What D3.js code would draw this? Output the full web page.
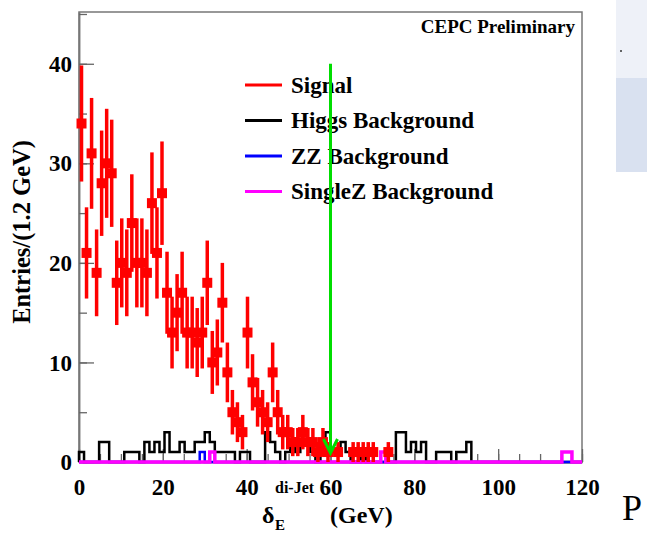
<!DOCTYPE html>
<html>
<head>
<meta charset="utf-8">
<script src="https://cdn.jsdelivr.net/npm/d3@7"></script>
<style>
body { margin: 0; background: #fff; }
text { font-family: "Liberation Serif", "Times New Roman", serif; font-weight: bold; }
</style>
</head>
<body>
<div id="content"></div>
<script>
// histogram binning: 100 bins of 1.2 GeV from 0 to 120
var binWidth = 1.2, nBins = 100;

// signal counts per bin (bins 0..61)
var signalCounts = [34, 21, 31, 19, 28, 30, 29, 18, 20, 19,
                    24, 20, 20, 19, 26, 21, 27, 17, 13, 15,
                    17, 13, 13, 12, 13, 18, 10, 11, 16, 9,
                    5, 4, 3, 13, 8, 6, 5, 4, 9, 5,
                    3, 3, 2, 2, 3, 2, 2, 1, 2, 1,
                    0, 1, 0, 0, 1, 1, 1, 1, 1, 0,
                    0, 1];
// higgs background per bin (bins 0..77, rest empty)
var higgsCounts = [1, 0, 0, 0, 2, 2, 0, 0, 0, 1,
                   1, 1, 0, 2, 1, 2, 1, 3, 1, 1,
                   2, 1, 1, 2, 2, 3, 2, 1, 1, 1,
                   1, 0, 1, 1, 0, 0, 0, 3, 2, 1,
                   0, 1, 2, 1, 2, 2, 1, 0, 2, 3,
                   1, 1, 2, 1, 0, 0, 1, 0, 0, 0,
                   0, 0, 0, 3, 3, 1, 2, 1, 2, 0,
                   0, 1, 1, 1, 0, 1, 1, 2];
var zzBins = [24], zzValues = [1];
var singleZBins = [26, 60, 96, 97], singleZValues = [1, 1, 1, 1];

var xTicks = [0, 20, 40, 60, 80, 100, 120];
var yTicks = [0, 10, 20, 30, 40];
var legendLabels = ["Signal", "Higgs Background", "ZZ Background", "SingleZ Background"];
var legendColors = ["#ff0000", "#000000", "#0000ff", "#ff00ff"];
var cutValue = 60;

var W = 647, H = 541;
var frame = {l: 79, r: 582, t: 12, b: 462};

var svg = d3.select("#content")
            .append("svg")
            .attr("width", W)
            .attr("height", H);

var x = d3.scaleLinear().domain([0, 120]).range([frame.l, frame.r]);
var y = d3.scaleLinear().domain([0, 45.2]).range([frame.b, frame.t]);

// slide leftovers on the right edge
svg.append("rect").attr("x", 616).attr("y", 0).attr("width", 31).attr("height", 78).attr("fill", "#eef1f8");
svg.append("rect").attr("x", 616).attr("y", 78).attr("width", 31).attr("height", 94).attr("fill", "#d9e1f0");
svg.append("circle").attr("cx", 621).attr("cy", 51).attr("r", 1).attr("fill", "#333");
svg.append("text").attr("x", 622).attr("y", 520)
   .style("font-weight", "normal").style("font-size", "36px").text("P");

// frame
svg.append("rect")
   .attr("x", frame.l).attr("y", frame.t)
   .attr("width", frame.r - frame.l).attr("height", frame.b - frame.t)
   .attr("fill", "none").attr("stroke", "#777").attr("stroke-width", 1.5);

// axes: major ticks with labels, minor ticks without
var minorX = d3.range(0, 121, 5), minorY = d3.range(0, 46, 5);

var axisXG = svg.append("g").attr("transform", "translate(0," + frame.b + ")")
  .call(d3.axisBottom(x).tickValues(xTicks).tickSizeInner(-13).tickSizeOuter(0).tickPadding(28));
svg.append("g").attr("transform", "translate(0," + frame.b + ")")
  .call(d3.axisBottom(x).tickValues(minorX).tickSizeInner(-8).tickSizeOuter(0).tickFormat(""));
var axisYG = svg.append("g").attr("transform", "translate(" + frame.l + ",0)")
  .call(d3.axisLeft(y).tickValues(yTicks).tickSizeInner(-15).tickSizeOuter(0).tickPadding(7));
svg.append("g").attr("transform", "translate(" + frame.l + ",0)")
  .call(d3.axisLeft(y).tickValues(minorY).tickSizeInner(-8).tickSizeOuter(0).tickFormat(""));

svg.selectAll(".domain").attr("stroke", "#777").attr("stroke-width", 1.5);
svg.selectAll(".tick line").attr("stroke", "#666").attr("stroke-width", 1.3);
svg.selectAll(".tick text").attr("fill", "#000")
   .style("font-family", "Liberation Serif, serif").style("font-weight", "bold").style("font-size", "23px");
axisXG.selectAll(".tick text").attr("dy", "0.2em");
axisYG.selectAll(".tick text").attr("dy", "0.33em");

// histograms
function stepPoints(get) {
  var pts = [[0, 0]];
  for (var i = 0; i < nBins; i++) {
    var v = get(i);
    pts.push([i * binWidth, v]);
    pts.push([(i + 1) * binWidth, v]);
  }
  pts.push([120, 0]);
  return pts;
}
var line = d3.line().x(function(d) { return x(d[0]); }).y(function(d) { return y(d[1]); });

svg.append("path")
   .attr("d", line(stepPoints(function(i) { return higgsCounts[i] || 0; })))
   .attr("fill", "none").attr("stroke", "#000").attr("stroke-width", 2.5);
svg.append("path")
   .attr("d", line(stepPoints(function(i) { var k = zzBins.indexOf(i); return k < 0 ? 0 : zzValues[k]; })))
   .attr("fill", "none").attr("stroke", "#0000ff").attr("stroke-width", 2.5);
svg.append("path")
   .attr("d", line(stepPoints(function(i) { var k = singleZBins.indexOf(i); return k < 0 ? 0 : singleZValues[k]; })))
   .attr("fill", "none").attr("stroke", "#ff00ff").attr("stroke-width", 3.5);

// signal points with sqrt(N) errors
var sig = signalCounts.map(function(v, i) { return {c: (i + 0.5) * binWidth, v: v}; })
                      .filter(function(d) { return d.v > 0; });
var sigG = svg.append("g");
sigG.selectAll("line")
    .data(sig)
    .enter()
    .append("line")
    .attr("x1", function(d) { return x(d.c); })
    .attr("x2", function(d) { return x(d.c); })
    .attr("y1", function(d) { return y(d.v - Math.sqrt(d.v)); })
    .attr("y2", function(d) { return y(d.v + Math.sqrt(d.v)); })
    .attr("stroke", "#ff0000").attr("stroke-width", 3.5);
sigG.selectAll("rect")
    .data(sig)
    .enter()
    .append("rect")
    .attr("x", function(d) { return x(d.c) - 5; })
    .attr("y", function(d) { return y(d.v) - 5; })
    .attr("width", 10).attr("height", 10)
    .attr("fill", "#ff0000");

// legend
var leg = svg.append("g");
legendLabels.forEach(function(lbl, i) {
  var ly = 85 + i * 35.5;
  leg.append("line").attr("x1", 245).attr("x2", 282).attr("y1", ly).attr("y2", ly)
     .attr("stroke", legendColors[i]).attr("stroke-width", 3);
  leg.append("text").attr("x", 291).attr("y", ly + 7.5)
     .style("font-size", "23px").text(lbl);
});

// header text
svg.append("text").attr("x", 575).attr("y", 33).attr("text-anchor", "end")
   .style("font-size", "19px").text("CEPC Preliminary");

// axis titles
svg.append("text")
   .attr("transform", "translate(30,232) rotate(-90)")
   .attr("text-anchor", "middle")
   .style("font-size", "24.5px").text("Entries/(1.2 GeV)");

var xt = svg.append("text").attr("x", 262).attr("y", 523).style("font-size", "24px");
xt.append("tspan").text("\u03b4");
xt.append("tspan").attr("x", 275).attr("y", 530).style("font-size", "15px").text("E");
xt.append("tspan").attr("x", 275).attr("y", 493).style("font-size", "16px").text("di-Jet");
xt.append("tspan").attr("x", 330).attr("y", 523).text("(GeV)");

// cut arrow
var arrowG = svg.append("g").attr("stroke", "#00dd00").attr("stroke-width", 3).attr("fill", "none");
arrowG.append("line").attr("x1", x(cutValue)).attr("x2", x(cutValue)).attr("y1", y(40)).attr("y2", y(0.9));
arrowG.append("path")
   .attr("d", "M" + (x(cutValue) - 7) + "," + (y(0.9) - 14) + "L" + x(cutValue) + "," + y(0.9) + "L" + (x(cutValue) + 7) + "," + (y(0.9) - 14));
</script>
</body>
</html>
